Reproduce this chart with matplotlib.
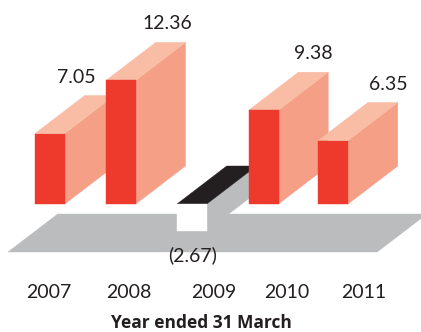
import matplotlib.pyplot as plt
from matplotlib.patches import Polygon

# data
years = ["2007", "2008", "2009", "2010", "2011"]
values = [7.05, 12.36, -2.67, 9.38, 6.35]
value_labels = ["7.05", "12.36", "(2.67)", "9.38", "6.35"]

# where the labels sit (bar slots along x)
value_label_x = [0.58, 1.86, 2.22, 3.92, 4.97]
year_label_x = [0.20, 1.32, 2.52, 3.54, 4.63]

# look of the pseudo-3D boxes
bar_w = 0.42      # front face width (slots)
dx, dy = 0.70, 3.8  # depth offset
pos = [0, 1, 2, 3.01, 3.99]

c_front = "#ee3a2c"
c_top = "#f9bca5"
c_side = "#f5a086"
c_floor = "#bbbcbe"
c_neg_top = "#231f20"
c_text = "#231f20"

fig = plt.figure(figsize=(4.21, 3.32), dpi=100)
ax = fig.add_axes([0, 0, 1, 1])
ax.set_xlim(-0.493, 5.437)
ax.set_ylim(-12.8, 20.4)
ax.axis("off")


def quad(pts, color, z):
    ax.add_patch(Polygon(pts, closed=True, facecolor=color, edgecolor=color,
                         linewidth=0.3, zorder=z))


# floor slab
fl0, fl1, fy = -0.38, 4.82, -4.8
quad([(fl0, fy), (fl1, fy), (fl1 + dx, fy + dy), (fl0 + dx, fy + dy)], c_floor, 1)

# boxes, left to right so later ones hide earlier sides
for i, (x, v) in enumerate(zip(pos, values)):
    z = 2 + i
    x1 = x + bar_w
    if v >= 0:
        quad([(x1, 0), (x1 + dx, dy), (x1 + dx, v + dy), (x1, v)], c_side, z)
        quad([(x, v), (x1, v), (x1 + dx, v + dy), (x + dx, v + dy)], c_top, z)
        quad([(x, 0), (x1, 0), (x1, v), (x, v)], c_front, z)
    else:
        quad([(x1, 0), (x1 + dx, dy), (x1 + dx, v + dy), (x1, v)], c_floor, z)
        quad([(x, 0), (x1, 0), (x1 + dx, dy), (x + dx, dy)], c_neg_top, z)
        quad([(x, 0), (x1, 0), (x1, v), (x, v)], "white", z)

font = "Lato"
for lx, v, lab in zip(value_label_x, values, value_labels):
    ly = v + dy + 1.85 if v >= 0 else -5.1
    ax.text(lx, ly, lab, ha="center", va="center", fontsize=14,
            family=font, color=c_text, zorder=10)

for lx, yr in zip(year_label_x, years):
    ax.text(lx, -8.8, yr, ha="center", va="center", fontsize=14,
            family=font, color=c_text)

ax.text(2.34, -11.9, "Year ended 31 March", ha="center", va="center",
        fontsize=12.5, fontweight="bold", family="Open Sans", color=c_text)

fig.savefig("out.png", dpi=100)
